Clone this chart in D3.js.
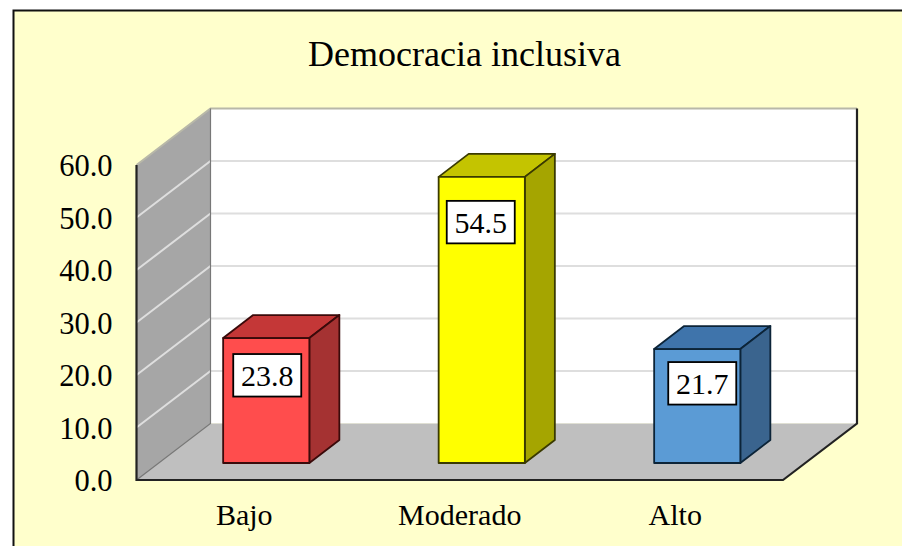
<!DOCTYPE html>
<html>
<head>
<meta charset="utf-8">
<script src="https://cdn.jsdelivr.net/npm/d3@7"></script>
<style>
html, body { margin: 0; padding: 0; background: #fff; }
svg { display: block; }
text { font-family: "Liberation Serif", serif; fill: #000; }
</style>
</head>
<body>
<script>
var categories = ["Bajo", "Moderado", "Alto"];
var values = [23.8, 54.5, 21.7];
var yTicks = [0, 10, 20, 30, 40, 50, 60];
var chartTitle = "Democracia inclusiva";

var w = 902;
var h = 546;

// colours per bar: front, top, side, edge
var barColors = [
    ["#ff4d4d", "#c43737", "#a53232", "#3a0a0a"],
    ["#ffff00", "#c4c400", "#a5a500", "#3a3a00"],
    ["#5b9bd5", "#3f74ab", "#3a648e", "#0c2438"]
];
// the value boxes sit a little differently on each bar
var boxShift = [[1, 16], [-1, 24], [5, 13]];

var svg = d3.select("body").append("svg")
    .attr("width", w)
    .attr("height", h);

// frame: only left and top edges show
svg.append("rect").attr("x", 13).attr("y", 10).attr("width", w - 13).attr("height", h - 10)
    .attr("fill", "#ffffcc");
svg.append("path").attr("d", "M13.5," + h + "V10.5H" + w)
    .attr("fill", "none").attr("stroke", "#111").attr("stroke-width", 2);

svg.append("text")
    .attr("x", 464.5).attr("y", 66)
    .attr("text-anchor", "middle")
    .style("font-size", "36px")
    .text(chartTitle);

// front plane scales
var y = d3.scaleLinear().domain([0, 60]).range([480, 165]);
var x = d3.scaleBand().domain(categories).range([136.5, 783]);

// depth of the box and the offset of the bars into it
var depthX = 74, depthY = 56.5;
var barX = 22, barY = 17;
var barDepthX = 30, barDepthY = 23;

var xBar = d3.scaleBand().domain(categories)
    .range([136.5 + barX, 783 + barX])
    .paddingInner(0.6).paddingOuter(0.3);

var x0 = x.range()[0], x1 = x.range()[1];
var line = d3.line();

// back wall
svg.append("path")
    .attr("d", line([[x0 + depthX, y(60) - depthY], [x1 + depthX, y(60) - depthY], [x1 + depthX, y(0) - depthY], [x0 + depthX, y(0) - depthY]]) + "Z")
    .attr("fill", "#fff");
// side wall
svg.append("path")
    .attr("d", line([[x0, y(0)], [x0, y(60)], [x0 + depthX, y(60) - depthY], [x0 + depthX, y(0) - depthY]]) + "Z")
    .attr("fill", "#a6a6a6");
// floor
svg.append("path")
    .attr("d", line([[x0, y(0)], [x1, y(0)], [x1 + depthX, y(0) - depthY], [x0 + depthX, y(0) - depthY]]) + "Z")
    .attr("fill", "#bfbfbf");

// grid lines on both walls
var gridVals = yTicks.filter(function (d) { return d > 0 && d < 60; });
svg.selectAll("path.grid")
    .data(gridVals)
    .enter()
    .append("path")
    .attr("class", "grid")
    .attr("d", function (d) {
        return line([[x0, y(d)], [x0 + depthX, y(d) - depthY], [x1 + depthX, y(d) - depthY]]);
    })
    .attr("fill", "none")
    .attr("stroke", "#dedede")
    .attr("stroke-width", 2);

// wall edges
svg.append("path")
    .attr("d", line([[x0, y(60)], [x0 + depthX, y(60) - depthY], [x1 + depthX, y(60) - depthY]]))
    .attr("fill", "none").attr("stroke", "#b8b8a8").attr("stroke-width", 2);
svg.append("path")
    .attr("d", line([[x0 + depthX, y(60) - depthY], [x0 + depthX, y(0) - depthY], [x0, y(0)]]))
    .attr("fill", "none").attr("stroke", "#777").attr("stroke-width", 1.2);
svg.append("path")
    .attr("d", line([[x0, y(60)], [x0, y(0)], [x1, y(0)], [x1 + depthX, y(0) - depthY], [x1 + depthX, y(60) - depthY]]))
    .attr("fill", "none").attr("stroke", "#222").attr("stroke-width", 2.2);

// bars
var base = y(0) - barY;
function barTop(d) { return y(d) - barY; }

var bars = svg.selectAll("g.bar")
    .data(values)
    .enter()
    .append("g")
    .attr("class", "bar")
    .attr("stroke-width", 1.8)
    .attr("stroke-linejoin", "round")
    .attr("stroke", function (d, i) { return barColors[i][3]; });

bars.append("path")
    .attr("fill", function (d, i) { return barColors[i][1]; })
    .attr("d", function (d, i) {
        var l = xBar(categories[i]), r = l + xBar.bandwidth(), t = barTop(d);
        return line([[l, t], [r, t], [r + barDepthX, t - barDepthY], [l + barDepthX, t - barDepthY]]) + "Z";
    });
bars.append("path")
    .attr("fill", function (d, i) { return barColors[i][2]; })
    .attr("d", function (d, i) {
        var r = xBar(categories[i]) + xBar.bandwidth(), t = barTop(d);
        return line([[r, t], [r + barDepthX, t - barDepthY], [r + barDepthX, base - barDepthY], [r, base]]) + "Z";
    });
bars.append("rect")
    .attr("fill", function (d, i) { return barColors[i][0]; })
    .attr("x", function (d, i) { return xBar(categories[i]); })
    .attr("y", barTop)
    .attr("width", xBar.bandwidth())
    .attr("height", function (d) { return base - barTop(d); });

// value boxes
var boxW = 68, boxH = 42.5;
function boxCx(d, i) { return xBar(categories[i]) + xBar.bandwidth() / 2 + boxShift[i][0]; }
function boxTop(d, i) { return barTop(d) + boxShift[i][1]; }

svg.selectAll("rect.valbox")
    .data(values)
    .enter()
    .append("rect")
    .attr("class", "valbox")
    .attr("x", function (d, i) { return boxCx(d, i) - boxW / 2; })
    .attr("y", boxTop)
    .attr("width", boxW)
    .attr("height", boxH)
    .attr("fill", "#fff")
    .attr("stroke", "#000")
    .attr("stroke-width", 1.8);

svg.selectAll("text.val")
    .data(values)
    .enter()
    .append("text")
    .attr("class", "val")
    .attr("x", boxCx)
    .attr("y", function (d, i) { return boxTop(d, i) + boxH / 2; })
    .attr("dy", "0.35em")
    .attr("text-anchor", "middle")
    .style("font-size", "30px")
    .text(d3.format(".1f"));

// axes, labels only
var yAxis = d3.axisLeft(y)
    .tickValues(yTicks)
    .tickFormat(d3.format(".1f"))
    .tickSize(0)
    .tickPadding(24);
var gy = svg.append("g").attr("transform", "translate(136.5,1)").call(yAxis);
gy.select(".domain").remove();
gy.selectAll("text").style("font-size", "30.5px").attr("font-family", null);

var xAxis = d3.axisBottom(x).tickSize(0).tickPadding(24);
var gx = svg.append("g").attr("transform", "translate(0,480)").call(xAxis);
gx.select(".domain").remove();
gx.selectAll("text").style("font-size", "30px").attr("font-family", null);
</script>
</body>
</html>
